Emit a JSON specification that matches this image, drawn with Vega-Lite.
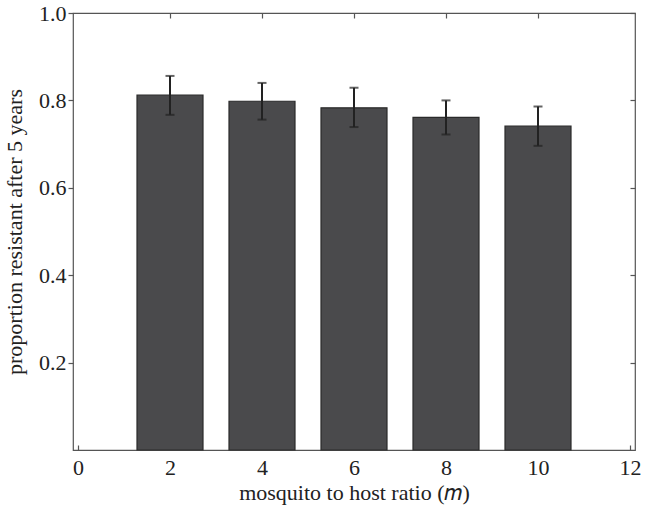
{
  "$schema": "https://vega.github.io/schema/vega-lite/v6.json",
  "autosize": "none",
  "width": 562,
  "height": 437,
  "padding": {"left": 73, "top": 13, "right": 13, "bottom": 59},
  "background": "white",
  "config": {
    "view": {"stroke": "#555555", "strokeWidth": 1.2},
    "font": "Liberation Serif",
    "axis": {
      "labelFont": "Liberation Serif",
      "titleFont": "Liberation Serif",
      "labelFontSize": 22,
      "titleFontSize": 22,
      "titleFontWeight": "normal",
      "labelColor": "#222222",
      "titleColor": "#222222",
      "domain": false,
      "grid": false,
      "tickColor": "#555555",
      "tickWidth": 1.2
    }
  },
  "data": {
    "values": [
      {"m": 2, "p": 0.812, "lo": 0.767, "hi": 0.856},
      {"m": 4, "p": 0.798, "lo": 0.756, "hi": 0.840},
      {"m": 6, "p": 0.783, "lo": 0.739, "hi": 0.829},
      {"m": 8, "p": 0.761, "lo": 0.722, "hi": 0.800},
      {"m": 10, "p": 0.741, "lo": 0.696, "hi": 0.786}
    ]
  },
  "resolve": {"axis": {"x": "independent", "y": "independent"}},
  "layer": [
    {
      "mark": {"type": "bar", "width": 66, "fill": "#4a4a4c", "stroke": "#2a2a2a", "strokeWidth": 1.2},
      "encoding": {
        "x": {
          "field": "m", "type": "quantitative",
          "scale": {"domain": [0, 12], "nice": false, "zero": false},
          "axis": {"values": [0, 2, 4, 6, 8, 10, 12], "title": "mosquito to host ratio (𝑚)", "tickSize": -5, "labelPadding": 12, "titlePadding": 4}
        },
        "y": {
          "field": "p", "type": "quantitative",
          "scale": {"domain": [0, 1], "nice": false},
          "axis": {"values": [0.2, 0.4, 0.6, 0.8, 1.0], "format": ".1f", "title": "proportion resistant after 5 years", "tickSize": 5, "labelPadding": 2, "titlePadding": 12}
        }
      }
    },
    {
      "mark": {"type": "rule", "color": "#222222", "strokeWidth": 2},
      "encoding": {
        "x": {"field": "m", "type": "quantitative", "axis": {"orient": "top", "values": [2, 4, 6, 8, 10], "labels": false, "tickSize": -5, "title": null}},
        "y": {"field": "lo", "type": "quantitative", "axis": {"orient": "right", "values": [0.2, 0.4, 0.6, 0.8, 1.0], "labels": false, "tickSize": -5, "title": null}},
        "y2": {"field": "hi"}
      }
    },
    {
      "mark": {"type": "tick", "orient": "horizontal", "color": "#222222", "size": 9, "thickness": 2},
      "encoding": {
        "x": {"field": "m", "type": "quantitative", "axis": null},
        "y": {"field": "lo", "type": "quantitative", "axis": null}
      }
    },
    {
      "mark": {"type": "tick", "orient": "horizontal", "color": "#222222", "size": 9, "thickness": 2},
      "encoding": {
        "x": {"field": "m", "type": "quantitative", "axis": null},
        "y": {"field": "hi", "type": "quantitative", "axis": null}
      }
    }
  ]
}
